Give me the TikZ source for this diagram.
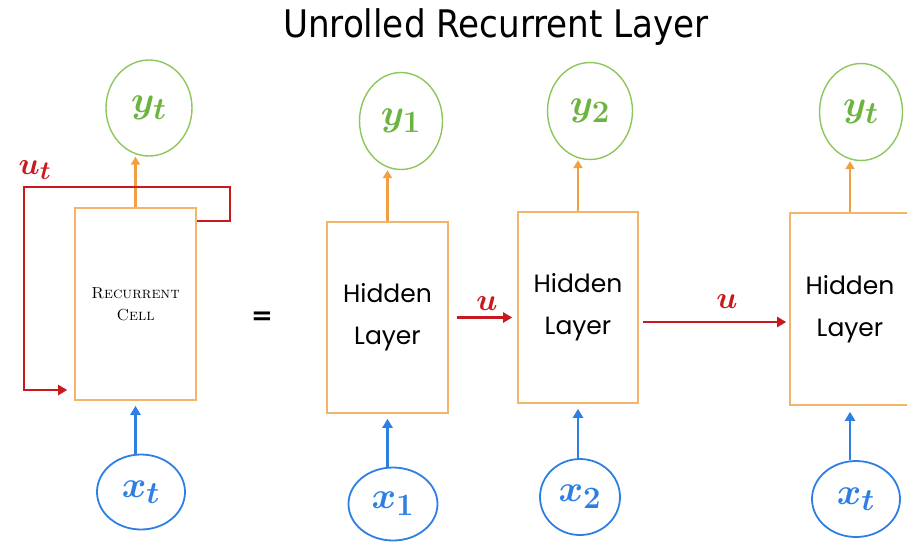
\documentclass[tikz,border=0pt]{standalone}
\usepackage{fontspec}
\usepackage{amsmath}
\usepackage{graphicx}
\usetikzlibrary{arrows.meta,shapes.geometric}
\newfontfamily\titlefont{DejaVu Sans Condensed}
\newfontfamily\handfont{Poppins}
\newfontfamily\symfont{DejaVu Sans}

\definecolor{ygreen}{HTML}{8DC65C}
\definecolor{ytext}{HTML}{6DB33F}
\definecolor{xblue}{HTML}{2D7FE3}
\definecolor{boxorange}{HTML}{F2B56B}
\definecolor{arrorange}{HTML}{F0A040}
\definecolor{recred}{HTML}{C8191E}

% large bold math symbol, scaled up from the largest math size
\newcommand{\varlabel}[2]{\scalebox{#1}{\Huge\boldmath$#2$}}

\begin{document}
\begin{tikzpicture}[x=1pt,y=-1pt,
  outcirc/.style={ellipse, draw=ygreen, line width=1.4pt, inner sep=0pt, text=ytext},
  incirc/.style={ellipse, draw=xblue, line width=1.8pt, inner sep=0pt, text=xblue},
  layerbox/.style={rectangle, draw=boxorange, line width=1.6pt, inner sep=0pt,
    minimum width=120pt, align=center, font=\handfont\fontsize{25}{42}\selectfont},
  uparrow/.style={draw=arrorange, line width=2.2pt, -{Triangle[length=8pt,width=9pt]}},
  inarrow/.style={draw=xblue, line width=2.4pt, -{Triangle[length=9pt,width=10pt]}},
  recarrow/.style={draw=recred, line width=2.2pt, -{Triangle[length=9pt,width=10pt]}},
  redlabel/.style={text=recred},
]
\useasboundingbox (0,0) rectangle (907,542);
\clip (0,0) rectangle (907,542);

% title
\node[anchor=base, font=\titlefont\fontsize{38}{38}\selectfont] (title) at (496,37)
  {Unrolled Recurrent Layer};

% folded recurrent cell
\node[layerbox, minimum width=121pt, minimum height=192pt] (cell) at (135.5,304) {};
\node[align=center, font=\fontsize{16}{22}\selectfont] (celltext) at (135.5,304)
  {\textsc{Recurrent}\\\textsc{Cell}};
\node[outcirc, minimum width=86pt, minimum height=96pt] (yt0) at (149,108) {\varlabel{1.5}{y_t}};
\node[incirc, minimum width=88pt, minimum height=75pt] (xt0) at (141,492) {\varlabel{1.5}{x_t}};
\draw[uparrow] (cell.north) -- (cell.north |- yt0.south);
\draw[inarrow, shorten >=5pt] (cell.south |- xt0.north) -- (cell.south);

% feedback loop
\coordinate (loopTR) at (230,187);
\coordinate (loopTL) at (24,187);
\coordinate (loopBL) at (24,390);
\draw[recarrow, shorten >=7pt] ([yshift=-14pt]cell.north east) -| (loopTR)
  -- (loopTL) -- (loopBL) -- (cell.west |- loopBL);
\node[redlabel] (ut) at (35,170) {\varlabel{1.25}{u_t}};

% equals sign
\node[font=\symfont\bfseries\fontsize{26}{26}\selectfont] (eq) at (262,318) {=};

% unrolled layers
\node[layerbox, minimum width=121pt, minimum height=191pt] (h1) at (387.5,317.5) {Hidden\\Layer};
\node[layerbox, minimum height=191pt] (h2) at (578,307.5) {Hidden\\Layer};
\node[layerbox, minimum height=192pt] (h3) at (850,309) {Hidden\\Layer};

\node[outcirc, minimum width=83pt, minimum height=97pt] (y1) at (401,121) {\varlabel{1.5}{y_1}};
\node[outcirc, minimum width=85pt, minimum height=97pt] (y2) at (590,111) {\varlabel{1.5}{y_2}};
\node[outcirc, minimum width=83pt, minimum height=97pt] (y3) at (861,112) {\varlabel{1.5}{y_t}};

\node[incirc, minimum width=89pt, minimum height=73pt] (x1) at (393,504) {\varlabel{1.5}{x_1}};
\node[incirc, minimum width=80pt, minimum height=76pt] (x2) at (580,497) {\varlabel{1.5}{x_2}};
\node[incirc, minimum width=88pt, minimum height=76pt] (x3) at (856,499) {\varlabel{1.5}{x_t}};

\draw[uparrow] (h1.north) -- (h1.north |- y1.south);
\draw[uparrow] (h2.north) -- (h2.north |- y2.south);
\draw[uparrow] (h3.north) -- (h3.north |- y3.south);

\draw[inarrow, shorten >=5pt] (h1.south |- x1.north) -- (h1.south);
\draw[inarrow, shorten >=5pt] (h2.south |- x2.north) -- (h2.south);
\draw[inarrow, shorten >=6pt] (h3.south |- x3.north) -- (h3.south);

% hidden state passed along
\draw[recarrow, shorten <=8pt, shorten >=5pt] (h1.east) -- (h1.east -| h2.west);
\node[redlabel] (u1) at (487,304) {\varlabel{1.25}{u}};
\coordinate (s2) at ([yshift=-14.5pt]h2.east);
\draw[recarrow, shorten <=4pt, shorten >=3pt] (s2) -- (s2 -| h3.west);
\node[redlabel] (u2) at (727,302) {\varlabel{1.25}{u}};
\end{tikzpicture}
\end{document}
